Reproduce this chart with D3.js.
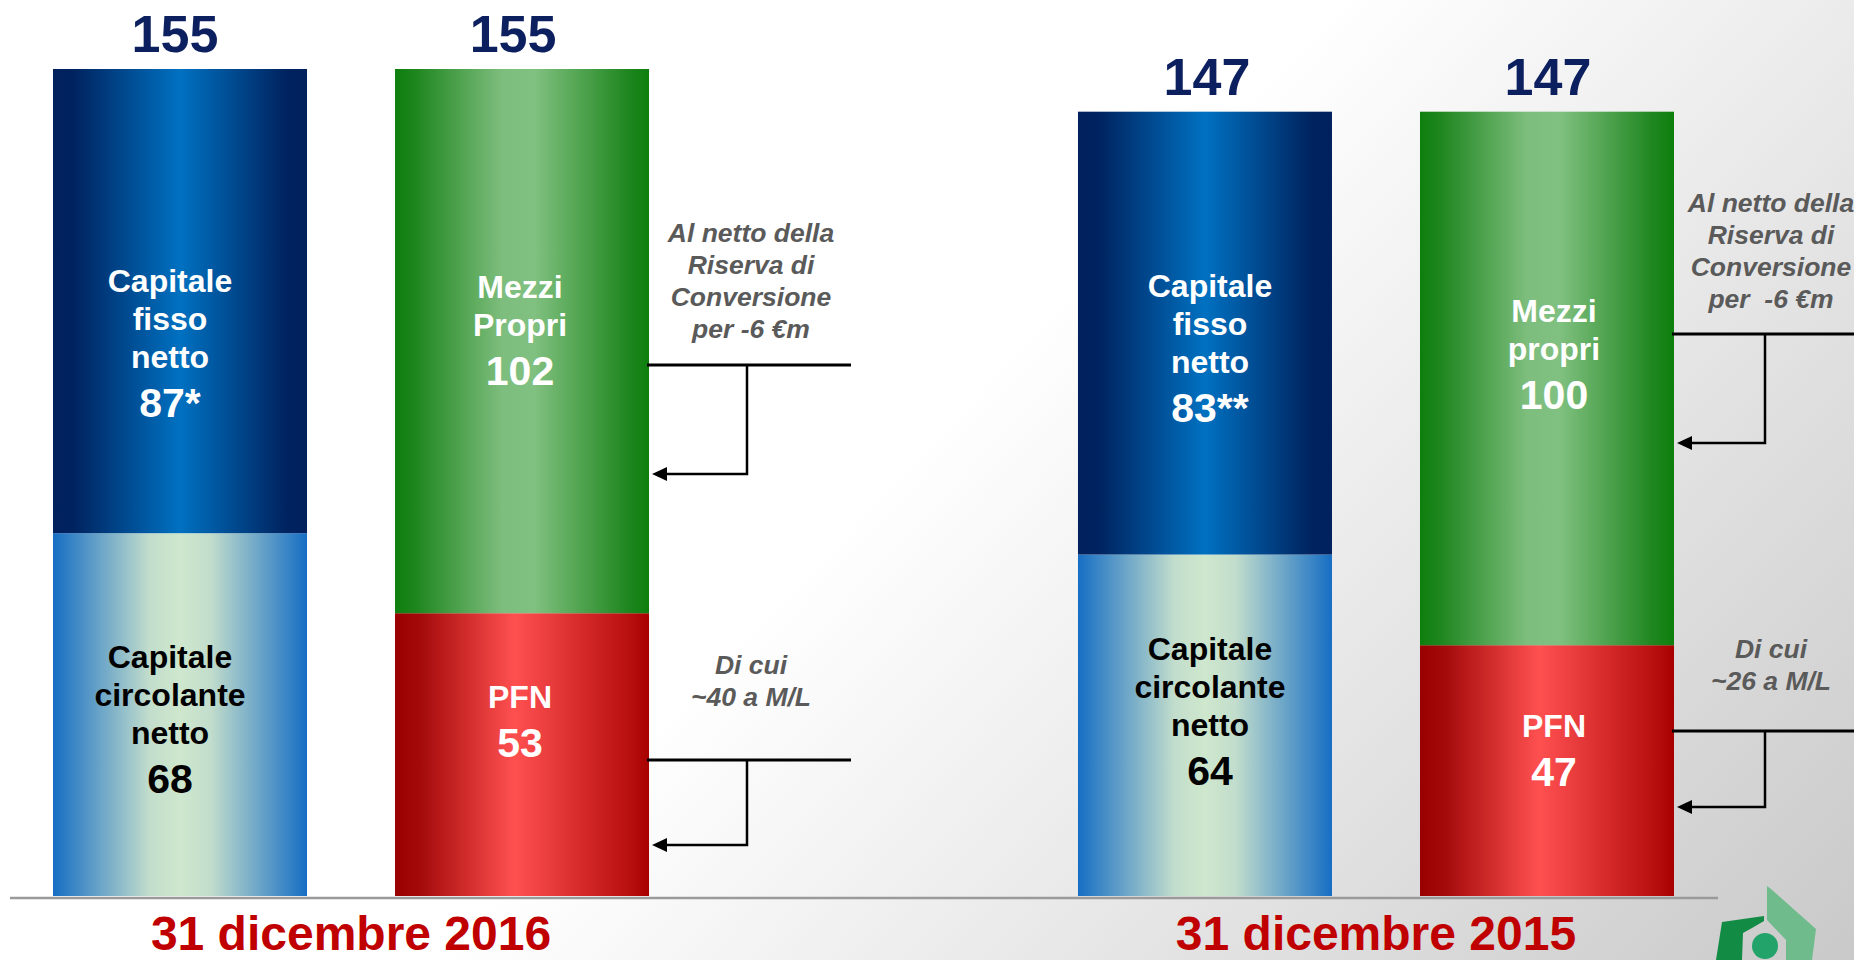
<!DOCTYPE html>
<html>
<head>
<meta charset="utf-8" />
<title>Capitale investito e fonti di finanziamento</title>
<style>
    body { margin: 0; background: #fff; }
    svg { display: block; font-family: "Liberation Sans", Arial, sans-serif; }
</style>
</head>
<body>
<div id="container"></div>
<script src="https://cdn.jsdelivr.net/npm/d3@7"></script>
<script>
    // data (€m)
    const dates = ['31 dicembre 2016', '31 dicembre 2015']
    const totals = [155, 147]
    const fissoNetto = [87, 83]
    const fissoLabels = ['87*', '83**']
    const circolanteNetto = [68, 64]
    const mezziPropri = [102, 100]
    const mezziLabels = [['Mezzi', 'Propri'], ['Mezzi', 'propri']]
    const pfn = [53, 47]
    const noteMezzi = [['Al netto della', 'Riserva di', 'Conversione', 'per -6 €m'],
                       ['Al netto della', 'Riserva di', 'Conversione', 'per  -6 €m']]
    const notePfn = [['Di cui', '~40 a M/L'], ['Di cui', '~26 a M/L']]

    const width = 1854
    const height = 960
    const baseY = 896
    const lineH = 38
    const numH = 49

    // first-line baselines of the labels inside each segment
    const fissoTextY = [292, 297]
    const mezziTextY = [298, 322]
    const circTextY = [668, 660]
    const pfnTextY = [708, 737]
    // small horizontal shifts of the labels vs. bar centre
    const attivoDx = [-10, 5]
    const passivoDx = [-2, 7]
    const totalDx = [[-5, -9], [2, 1]]

    // annotation arrows: y of the bracket line and y of the arrow
    const mezziArrow = [[365, 474], [334, 443]]
    const pfnArrow = [[760, 845], [731, 807]]
    const arrowEnd = [851, 1854]
    const bracketX = [747, 1765]
    const noteX = [751, 1771]
    const mezziNoteY = [242, 212]
    const pfnNoteY = [674, 658]

    let svg = d3.select('#container').append('svg').attr('width', width).attr('height', height)
    let defs = svg.append('defs')

    function hGrad(id, stops) {
        let g = defs.append('linearGradient').attr('id', id).attr('x1', '0').attr('x2', '1').attr('y1', '0').attr('y2', '0')
        stops.forEach(s => g.append('stop').attr('offset', s[0]).attr('stop-color', s[1]))
    }
    hGrad('gFisso', [[0, '#00205e'], [0.08, '#00235f'], [0.5, '#0071c1'], [0.92, '#00235f'], [1, '#00205e']])
    hGrad('gCirc', [[0, '#166ec4'], [0.38, '#c2ddcc'], [0.5, '#cee7cd'], [0.62, '#c2ddcc'], [1, '#166ec4']])
    hGrad('gMezzi', [[0, '#0d7f0d'], [0.08, '#1e861e'], [0.42, '#7dbd7d'], [0.55, '#80c080'], [0.92, '#1e861e'], [1, '#0d7f0d']])
    hGrad('gPfn', [[0, '#990000'], [0.1, '#a40a0a'], [0.47, '#ff5050'], [0.92, '#b80f0f'], [1, '#a80000']])

    let bg = defs.append('linearGradient').attr('id', 'gBg').attr('gradientUnits', 'userSpaceOnUse')
        .attr('x1', 1100).attr('y1', 250).attr('x2', 1854).attr('y2', 960)
    bg.append('stop').attr('offset', 0).attr('stop-color', '#ffffff')
    bg.append('stop').attr('offset', 1).attr('stop-color', '#c9c9c9')
    svg.append('rect').attr('width', width).attr('height', height).attr('fill', 'url(#gBg)')

    let y = d3.scaleLinear().domain([0, 155]).range([baseY, 69])
    let x = d3.scaleBand().domain(dates).range([53, 1674]).paddingInner(0.4185)
    let xi = d3.scaleBand().domain(['attivo', 'passivo']).range([0, x.bandwidth()]).paddingInner(0.2573)
    const bw = xi.bandwidth()

    const segments = []
    dates.forEach((d, i) => {
        const xa = x(d) + xi('attivo')
        const xp = x(d) + xi('passivo')
        segments.push({x: xa, y0: 0, y1: circolanteNetto[i], fill: 'url(#gCirc)'})
        segments.push({x: xa, y0: circolanteNetto[i], y1: circolanteNetto[i] + fissoNetto[i], fill: 'url(#gFisso)'})
        segments.push({x: xp, y0: 0, y1: pfn[i], fill: 'url(#gPfn)'})
        segments.push({x: xp, y0: pfn[i], y1: pfn[i] + mezziPropri[i], fill: 'url(#gMezzi)'})
    })

    svg.append('g').selectAll('rect').data(segments).join('rect')
        .attr('x', s => s.x).attr('width', bw)
        .attr('y', s => y(s.y1)).attr('height', s => y(s.y0) - y(s.y1))
        .attr('fill', s => s.fill)

    // baseline
    svg.append('line').attr('x1', 10).attr('x2', 1718).attr('y1', baseY + 2).attr('y2', baseY + 2)
        .attr('stroke', '#9a9a9a').attr('stroke-width', 2.5)

    // totals on top, dates below
    dates.forEach((d, i) => {
        ['attivo', 'passivo'].forEach((k, j) => {
            svg.append('text').attr('x', x(d) + xi(k) + bw / 2 + totalDx[i][j]).attr('y', y(totals[i]) - 17)
                .attr('text-anchor', 'middle').attr('font-size', 52).attr('font-weight', 'bold')
                .attr('fill', '#0c1f5e').text(totals[i])
        })
        svg.append('text').attr('x', x(d) + x.bandwidth() / 2).attr('y', 950)
            .attr('text-anchor', 'middle').attr('font-size', 48).attr('font-weight', 'bold')
            .attr('fill', '#c00000').text(d)
    })

    function block(cx, y0, lines, num, color) {
        let g = svg.append('g').attr('fill', color).attr('font-weight', 'bold').attr('text-anchor', 'middle')
        lines.forEach((t, j) => {
            g.append('text').attr('x', cx).attr('y', y0 + j * lineH).attr('font-size', 32).text(t)
        })
        g.append('text').attr('x', cx).attr('y', y0 + (lines.length - 1) * lineH + numH)
            .attr('font-size', 41).text(num)
    }

    dates.forEach((d, i) => {
        const ca = x(d) + xi('attivo') + bw / 2 + attivoDx[i]
        const cp = x(d) + xi('passivo') + bw / 2 + passivoDx[i]
        block(ca, fissoTextY[i], ['Capitale', 'fisso', 'netto'], fissoLabels[i], '#ffffff')
        block(ca, circTextY[i], ['Capitale', 'circolante', 'netto'], circolanteNetto[i], '#000000')
        block(cp, mezziTextY[i], mezziLabels[i], mezziPropri[i], '#ffffff')
        block(cp, pfnTextY[i], ['PFN'], pfn[i], '#ffffff')

        // annotations
        const right = x(d) + xi('passivo') + bw
        const vx = bracketX[i]
        ;[mezziArrow[i], pfnArrow[i]].forEach(a => {
            svg.append('line').attr('x1', right - 2).attr('x2', arrowEnd[i]).attr('y1', a[0]).attr('y2', a[0])
                .attr('stroke', '#000').attr('stroke-width', 3)
            svg.append('path').attr('d', `M${vx},${a[0]} V${a[1]} H${right + 16}`)
                .attr('fill', 'none').attr('stroke', '#000').attr('stroke-width', 2.5)
            svg.append('path').attr('d', `M${right + 3},${a[1]} L${right + 18},${a[1] - 7} L${right + 18},${a[1] + 7} Z`)
                .attr('fill', '#000')
        })
        let notes = [[noteMezzi[i], mezziNoteY[i]], [notePfn[i], pfnNoteY[i]]]
        notes.forEach(n => {
            let g = svg.append('g').attr('fill', '#5a5a5a').attr('font-weight', 'bold').attr('font-style', 'italic')
                .attr('text-anchor', 'middle').attr('font-size', 26.5)
            n[0].forEach((t, j) => {
                g.append('text').attr('x', noteX[i]).attr('y', n[1] + j * 32).style('white-space', 'pre').text(t)
            })
        })
    })

    // logo fragment (bottom right)
    let logo = svg.append('g')
    logo.append('path').attr('d', 'M1722,922 L1764,916 L1764,921 L1752,928 L1743,933 L1742,960 L1716,960 Z').attr('fill', '#128b45')
    logo.append('path').attr('d', 'M1767,886 L1771,889 L1816,929 L1812,960 L1786,960 L1786,940 L1767,920 Z').attr('fill', '#6fbb8c')
    logo.append('circle').attr('cx', 1765).attr('cy', 946).attr('r', 13).attr('fill', '#22a36a')
</script>
</body>
</html>
